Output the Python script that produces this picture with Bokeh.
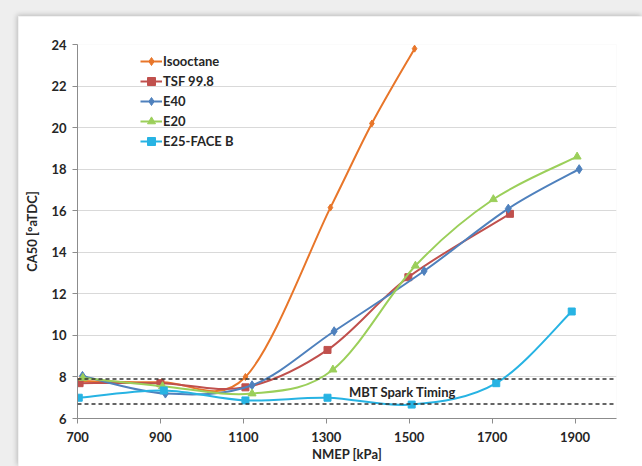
from bokeh.plotting import figure
from bokeh.models import Range1d, FixedTicker, Legend, LegendItem, Span, Label
from bokeh.layouts import column
from bokeh.embed import file_html
from bokeh.resources import INLINE

FONT = "Lato"

# CA50 vs NMEP for each fuel
iso_x = [705, 903, 1105, 1310, 1410, 1513]
iso_y = [7.8, 7.75, 8.0, 16.15, 20.2, 23.8]

tsf_x = [705, 900, 1105, 1303, 1498, 1743]
tsf_y = [7.7, 7.7, 7.5, 9.3, 12.8, 15.85]

e40_x = [712, 912, 1121, 1319, 1536, 1739, 1910]
e40_y = [8.05, 7.2, 7.6, 10.2, 13.1, 16.1, 18.0]

e20_x = [713, 905, 1121, 1316, 1515, 1703, 1905]
e20_y = [7.95, 7.55, 7.2, 8.35, 13.35, 16.55, 18.6]

e25_x = [703, 908, 1105, 1303, 1506, 1710, 1892]
e25_y = [7.0, 7.35, 6.87, 7.0, 6.67, 7.7, 11.15]

series_names = ["Isooctane", "TSF 99.8", "E40", "E20", "E25-FACE B"]

# MBT spark timing band
mbt_upper = 7.9
mbt_lower = 6.7

x_ticks = [700, 900, 1100, 1300, 1500, 1700, 1900]
y_ticks = [6, 8, 10, 12, 14, 16, 18, 20, 22, 24]


def smooth(xs, ys):
    """Cardinal-spline bezier segments through the points (Excel-style smoothing)."""
    n = len(xs)
    seg = {k: [] for k in ("x0", "y0", "x1", "y1", "cx0", "cy0", "cx1", "cy1")}
    for i in range(n - 1):
        ip, inx = max(i - 1, 0), min(i + 2, n - 1)
        seg["x0"].append(xs[i]); seg["y0"].append(ys[i])
        seg["x1"].append(xs[i + 1]); seg["y1"].append(ys[i + 1])
        seg["cx0"].append(xs[i] + (xs[i + 1] - xs[ip]) / 6)
        seg["cy0"].append(ys[i] + (ys[i + 1] - ys[ip]) / 6)
        seg["cx1"].append(xs[i + 1] - (xs[inx] - xs[i]) / 6)
        seg["cy1"].append(ys[i + 1] - (ys[inx] - ys[i]) / 6)
    return seg


p = figure(width=624, height=450,
           x_range=Range1d(700, 2000), y_range=Range1d(6, 24),
           output_backend="svg", toolbar_location=None,
           min_border_left=59, min_border_top=28,
           min_border_right=26, min_border_bottom=48,
           background_fill_color="white", border_fill_color="white")
p.outline_line_color = None
p.margin = (16, 0, 0, 18)
p.styles = {"box-shadow": "-1px -1px 5px rgba(0,0,0,0.22)"}

p.xgrid.visible = False
p.ygrid.grid_line_color = "#D9D9D9"
p.ygrid.grid_line_width = 1

p.xaxis.ticker = FixedTicker(ticks=x_ticks)
p.yaxis.ticker = FixedTicker(ticks=y_ticks)
for ax in (p.xaxis, p.yaxis):
    ax.axis_line_color = "#8C8C8C"
    ax.major_tick_line_color = "#8C8C8C"
    ax.major_tick_out = 5
    ax.major_tick_in = 0
    ax.minor_tick_line_color = None
    ax.major_label_text_font = FONT
    ax.major_label_text_font_style = "bold"
    ax.major_label_text_font_size = "13px"
    ax.major_label_text_color = "#262626"
    ax.axis_label_text_font = FONT
    ax.axis_label_text_font_style = "bold"
    ax.axis_label_text_font_size = "13px"
    ax.axis_label_text_color = "#262626"
p.xaxis.axis_label = "NMEP [kPa]"
p.yaxis.axis_label = "CA50 [°aTDC]"
p.xaxis.major_label_standoff = 8
p.xaxis.axis_label_standoff = 1
p.yaxis.major_label_standoff = 6
p.yaxis.axis_label_standoff = 8

for loc in (mbt_upper, mbt_lower):
    p.add_layout(Span(location=loc, dimension="width", line_color="#333333",
                      line_dash="4 3", line_width=1.5))

p.add_layout(Label(x=1355, y=7.27, text="MBT Spark Timing", text_font=FONT,
                   text_font_style="bold", text_font_size="13px",
                   text_color="#262626", text_baseline="middle"))

styles = [
    (iso_x, iso_y, "#E8762A", "diamond", 7),
    (tsf_x, tsf_y, "#C0504D", "square", 7),
    (e40_x, e40_y, "#4F81BD", "diamond", 9),
    (e20_x, e20_y, "#9BCF5A", "triangle", 8),
    (e25_x, e25_y, "#27B3E3", "square", 7),
]

items = []
for name, (xs, ys, color, marker, size) in zip(series_names, styles):
    seg = smooth(xs, ys)
    line = p.bezier(x0="x0", y0="y0", x1="x1", y1="y1",
                    cx0="cx0", cy0="cy0", cx1="cx1", cy1="cy1",
                    source=seg, line_color=color, line_width=2)
    pts = p.scatter(xs, ys, marker=marker, size=size,
                    fill_color=color, line_color=color)
    items.append(LegendItem(label=name, renderers=[line, pts]))

legend = Legend(items=items, location=(63, 267), padding=0, spacing=0,
                label_height=20, glyph_height=20, glyph_width=22,
                label_standoff=1, border_line_color=None,
                background_fill_alpha=0,
                label_text_font=FONT, label_text_font_style="bold",
                label_text_font_size="13px", label_text_color="#262626")
p.add_layout(legend)

layout = column(p, styles={"background-color": "#EEEEEE"})

open("out.html", "w").write(file_html(layout, INLINE))
